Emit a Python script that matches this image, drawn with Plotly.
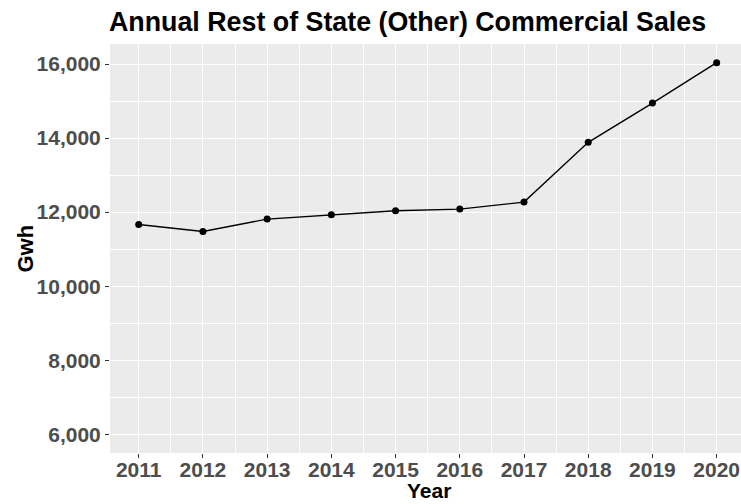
import plotly.graph_objects as go

years = [2011, 2012, 2013, 2014, 2015, 2016, 2017, 2018, 2019, 2020]
gwh = [11667, 11478, 11811, 11927, 12035, 12081, 12270, 13884, 14946, 16035]
y_tickvals = [6000, 8000, 10000, 12000, 14000, 16000]
y_ticktext = ["6,000", "8,000", "10,000", "12,000", "14,000", "16,000"]
x_ticktext = [str(y) for y in years]

title_text = "Annual Rest of State (Other) Commercial Sales"
x_title = "Year"
y_title = "Gwh"

FONT = "Liberation Sans"

fig = go.Figure()
fig.add_trace(go.Scatter(
    x=years, y=gwh, mode="lines+markers",
    line=dict(color="black", width=1.4),
    marker=dict(color="black", size=7),
    showlegend=False, hoverinfo="skip",
))

fig.update_layout(
    width=741, height=504,
    margin=dict(l=110, r=0, t=44, b=51),
    paper_bgcolor="white",
    plot_bgcolor="#EBEBEB",
    font=dict(family=FONT),
    title=dict(text="<b>" + title_text + "</b>", x=109/741, xanchor="left",
               xref="container", y=1 - 22/504, yanchor="middle",
               font=dict(family=FONT, size=26.8, color="black")),
)

fig.update_xaxes(
    range=[2010.553, 2020.379],
    tickvals=years, ticktext=["<b>%s</b>" % t for t in x_ticktext],
    tickfont=dict(family=FONT, size=21, color="#4D4D4D"),
    ticks="outside", ticklen=4, tickwidth=1.1, tickcolor="#333333",
    ticklabelstandoff=-6,
    showgrid=True, gridcolor="white", gridwidth=1.2,
    minor=dict(dtick=0.5, tick0=2010.5, showgrid=True, gridcolor="white", gridwidth=0.6, ticks=""),
    zeroline=False, showline=False,
)
fig.update_yaxes(
    range=[5495, 16540],
    tickvals=y_tickvals, ticktext=["<b>%s</b>" % t for t in y_ticktext],
    tickfont=dict(family=FONT, size=21, color="#4D4D4D"),
    ticks="outside", ticklen=4, tickwidth=1.1, tickcolor="#333333",
    showgrid=True, gridcolor="white", gridwidth=1.2,
    minor=dict(dtick=1000, tick0=5000, showgrid=True, gridcolor="white", gridwidth=0.6, ticks=""),
    zeroline=False, showline=False,
)

fig.add_annotation(text="<b>" + x_title + "</b>", xref="paper", yref="paper",
                   x=(428.5 - 110) / 631, y=-(504 - 453) / 409, xanchor="center", yanchor="bottom",
                   showarrow=False, font=dict(family=FONT, size=21, color="black"))
fig.add_annotation(text="<b>" + y_title + "</b>", xref="paper", yref="paper",
                   x=-(110 - 25) / 631, y=0.5, xanchor="center", yanchor="middle", textangle=-90,
                   showarrow=False, font=dict(family=FONT, size=22, color="black"))

fig.write_html("out.html", config={"displayModeBar": False},
               post_script="document.body.style.margin='0';document.body.style.overflow='hidden';")
